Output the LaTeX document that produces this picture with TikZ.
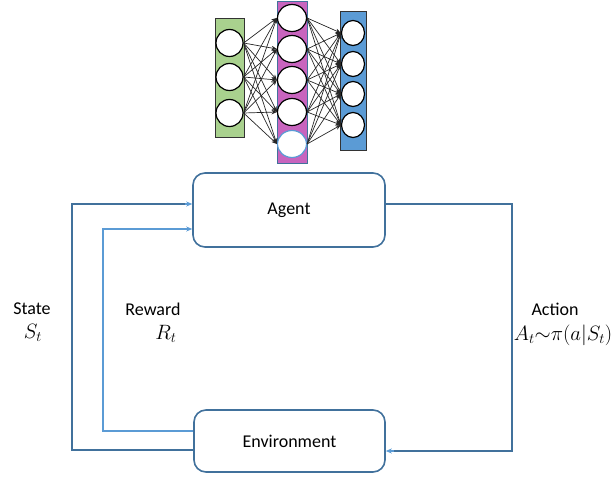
\documentclass[tikz,border=0pt]{standalone}
\usepackage{fontspec}
\setmainfont{Carlito}
\usetikzlibrary{arrows.meta,calc,shapes.geometric}
\definecolor{dkblue}{HTML}{41719C}
\definecolor{ltblue}{HTML}{5B9BD5}
\definecolor{nngreen}{HTML}{A9D18E}
\definecolor{nnpink}{HTML}{C864BE}
\definecolor{nnblue}{HTML}{5B9BD5}
\tikzset{
  box/.style={draw=dkblue, line width=1.6pt, rounded corners=12pt, fill=white, font=\fontsize{18}{22}\selectfont, inner sep=0pt},
  outerline/.style={draw=dkblue, line width=1.6pt},
  innerline/.style={draw=ltblue, line width=1.4pt},
  tip/.style={-{Stealth[length=6pt,width=5pt,fill=ltblue]}},
  lbl/.style={font=\fontsize{18}{22}\selectfont, inner sep=0pt},
  mlbl/.style={font=\fontsize{20}{24}\selectfont, inner sep=0pt},
  neuron/.style={draw=black, line width=1.2pt, fill=white, ellipse, inner sep=0pt},
  nnedge/.style={draw=black!85, line width=0.7pt, -{Stealth[length=5.5pt,width=4.5pt]}},
}
\begin{document}
\begin{tikzpicture}[x=1pt,y=-1pt]
\useasboundingbox (0,0) rectangle (615,486);
% layers
\node[draw=black!80, line width=1pt, fill=nngreen, minimum width=29pt, minimum height=119pt, inner sep=0pt] (lg) at (229.5,78.5) {};
\node[draw=dkblue, line width=1pt, fill=nnpink, minimum width=30pt, minimum height=162pt, inner sep=0pt] (lp) at (292,83) {};
\node[draw=black!80, line width=1pt, fill=nnblue, minimum width=26pt, minimum height=139pt, inner sep=0pt] (lb) at (353,81.5) {};
% neurons
\foreach \i/\y in {1/43,2/77,3/113}
  \node[neuron, minimum width=27pt, minimum height=27pt] (g\i) at (229.5,\y) {};
\foreach \i/\y in {1/18,2/49,3/80,4/112}
  \node[neuron, minimum width=29pt, minimum height=27pt] (p\i) at (292,\y) {};
\node[neuron, draw=ltblue, minimum width=29pt, minimum height=27pt] (p5) at (292,144) {};
\foreach \i/\y in {1/33,2/64,3/94,4/125}
  \node[neuron, minimum width=23pt, minimum height=25pt] (b\i) at (353,\y) {};
% edges
\foreach \i in {1,2,3}
  \foreach \j in {1,...,5}
    \draw[nnedge] (g\i.east) -- (p\j.west);
\foreach \j in {1,...,5}
  \foreach \k in {1,...,4}
    \draw[nnedge] (p\j.east) -- (b\k.west);
% boxes
\node[box, minimum width=192pt, minimum height=74pt] (agent) at (289,210) {Agent};
\node[box, minimum width=191pt, minimum height=62pt] (env) at (289.5,441) {Environment};
% corners
\coordinate (sb) at (72,450);
\coordinate (st) at (72,204);
\coordinate (rb) at (103,431);
\coordinate (rt) at (103,229);
\coordinate (at) at (512,204);
\coordinate (ab) at (512,451);
% state
\draw[outerline] (env.west |- sb) -- (sb) -- (st) -- ([xshift=-6pt]agent.west |- st);
\draw[innerline, tip] ([xshift=-7pt]agent.west |- st) -- (agent.west |- st);
% reward
\draw[innerline, tip] (env.west |- rb) -- (rb) -- (rt) -- (agent.west |- rt);
% action
\draw[outerline] (agent.east |- at) -- (at) -- (ab) -- ([xshift=7pt]env.east |- ab);
\draw[innerline, tip] ([xshift=8pt]env.east |- ab) -- (env.east |- ab);
% labels
\node[lbl] (lstate) at (32,309) {State};
\node[mlbl] (lst) at (33,333) {$S_t$};
\node[lbl] (lrew) at (153,309) {Reward};
\node[mlbl] (lrt) at (166,334) {$R_t$};
\node[lbl] (lact) at (555,309) {Action};
\node[mlbl] (lat) at (563,335) {$A_t{\sim}\pi(a|S_t)$};
\end{tikzpicture}
\end{document}
